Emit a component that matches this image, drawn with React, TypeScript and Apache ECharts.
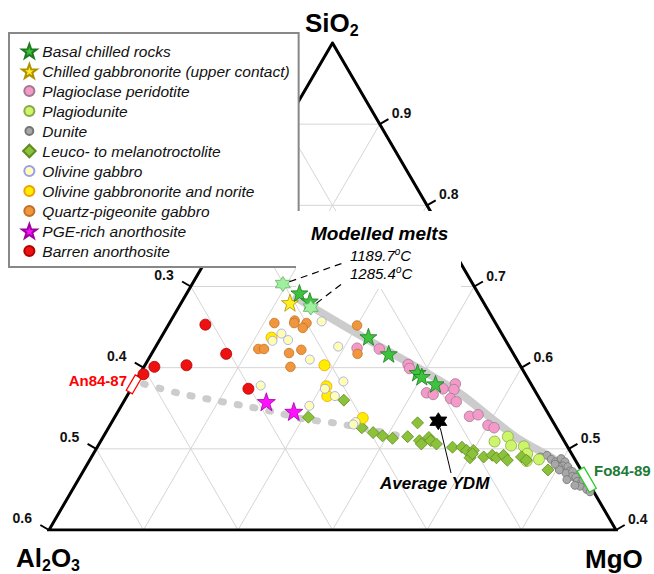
import React, { useEffect, useRef } from 'react';
import * as echarts from 'echarts';

// Compositions as [SiO2, MgO] fractions (Al2O3 = 1 - SiO2 - MgO)
const basalChilled = [[0.692,0.119],[0.682,0.135],[0.638,0.219],[0.617,0.251],[0.594,0.293],[0.589,0.300],[0.580,0.319]];
const chilledUpper = [[0.680,0.115]];
const plagPeridotite = [[0.624,0.214],[0.623,0.238],[0.604,0.278],[0.599,0.282],[0.569,0.315],[0.567,0.323],[0.574,0.330],[0.580,0.340],[0.573,0.342],[0.562,0.344],[0.558,0.352],[0.540,0.375],[0.542,0.383],[0.529,0.400],[0.526,0.408]];
const plagiodunite = [[0.515,0.428],[0.509,0.417],[0.504,0.437],[0.503,0.451],[0.494,0.459],[0.487,0.475],[0.485,0.463]];
const dunite = [[0.490,0.475],[0.492,0.481],[0.487,0.488],[0.484,0.494],[0.488,0.498],[0.484,0.504],[0.479,0.504],[0.478,0.510],[0.478,0.500],[0.473,0.515],[0.470,0.512],[0.472,0.518],[0.466,0.521],[0.465,0.525],[0.460,0.529],[0.457,0.534],[0.454,0.540],[0.454,0.535],[0.450,0.544],[0.474,0.503],[0.481,0.495],[0.462,0.517],[0.462,0.534],[0.455,0.529],[0.447,0.549]];
const troctolite = [[0.539,0.205],[0.560,0.232],[0.526,0.268],[0.520,0.283],[0.516,0.295],[0.513,0.307],[0.532,0.324],[0.515,0.322],[0.510,0.337],[0.506,0.341],[0.514,0.345],[0.510,0.349],[0.506,0.357],[0.502,0.376],[0.502,0.386],[0.498,0.393],[0.489,0.401],[0.498,0.400],[0.494,0.401],[0.490,0.415],[0.492,0.423],[0.489,0.429],[0.492,0.435],[0.486,0.442],[0.490,0.455],[0.486,0.462],[0.474,0.491]];
const olivineGabbro = [[0.657,0.160],[0.642,0.125],[0.634,0.136],[0.633,0.120],[0.626,0.193],[0.610,0.171],[0.578,0.135],[0.583,0.220],[0.574,0.205],[0.565,0.220],[0.553,0.199],[0.533,0.258],[0.530,0.257]];
const olGabbronorite = [[0.637,0.117],[0.603,0.190],[0.577,0.205],[0.565,0.212],[0.538,0.263]];
const qtzPigeonite = [[0.655,0.111],[0.658,0.131],[0.655,0.132],[0.655,0.145],[0.649,0.144],[0.623,0.110],[0.623,0.116],[0.618,0.145],[0.622,0.156],[0.601,0.155],[0.652,0.200],[0.617,0.218]];
const pgeAnorthosite = [[0.558,0.151],[0.546,0.186]];
const barrenAnorthosite = [[0.653,0.039],[0.617,0.079],[0.603,0.044],[0.601,0.011],[0.592,0.004],[0.574,0.124]];
const modelledMelts = [[0.703,0.096],[0.674,0.140]];
const meltLabels = ['1189.7', '1285.4'];
const averageYDM = [[0.534,0.345]];
const trendPeridotite = [[0.686,0.119],[0.669,0.152],[0.633,0.223],[0.598,0.294],[0.568,0.351],[0.536,0.402],[0.511,0.443],[0.486,0.493],[0.457,0.539]];
const trendTroctolite = [[0.580,0.010],[0.569,0.051],[0.561,0.089],[0.554,0.125],[0.546,0.163],[0.537,0.200],[0.532,0.235],[0.525,0.272],[0.516,0.313]];
const anRange = [0.570, 0.589]; // SiO2 on the MgO = 0 edge
const foRange = [0.449, 0.475]; // SiO2 on the Al2O3 = 0 edge
const rightTicks = [0.9, 0.8, 0.7, 0.6, 0.5, 0.4]; // SiO2
const leftTicks = [0.3, 0.4, 0.5, 0.6]; // Al2O3
const gridLevels = [0.1, 0.2, 0.3, 0.4, 0.5];
const gridSiO2 = [0.5, 0.6, 0.7, 0.8, 0.9];
const SIO2_MIN = 0.4;

const FONT = '"Liberation Sans", Arial, Helvetica, sans-serif';
const STAR = 'path://M50,0L61.8,33.8L97.6,34.5L69,56.2L79.4,90.5L50,70L20.6,90.5L31,56.2L2.4,34.5L38.2,33.8Z';
const HEX = 'path://M50,0L64.4,25L93.3,25L78.9,50L93.3,75L64.4,75L50,100L35.6,75L6.7,75L21.1,50L6.7,25L35.6,25Z';
const padCircle = (r: number) =>
  `path://M0,0M100,100M${50 + r},50A${r},${r},0,1,1,${50 - r},50A${r},${r},0,1,1,${50 + r},50Z`;
const padDiamond = 'path://M0,0M100,100M50,5L95,50L50,95L5,50Z';

const toXY = (p: number[]) => [p[1] + p[0] / 2, p[0]];

function seg(a: number[], b: number[]) {
  return {
    type: 'line', data: [toXY(a), toXY(b)], symbol: 'none', silent: true, z: 1,
    lineStyle: { color: '#d5d5d5', width: 1 },
  };
}

function scatter(name: string, data: number[][], symbol: string, size: number, color: string, border: string, z = 5) {
  return {
    name, type: 'scatter', data: data.map(toXY), symbol, symbolSize: size, z,
    itemStyle: { color, borderColor: border, borderWidth: 0.8, opacity: 1 },
  };
}

export default function App() {
  const ref = useRef<HTMLDivElement>(null);
  useEffect(() => {
    const chart = echarts.init(ref.current!, null, { renderer: 'svg' });
    const gridLines: any[] = [];
    gridSiO2.forEach((k) => gridLines.push(seg([k, 0], [k, 1 - k])));
    gridLevels.forEach((c) => gridLines.push(seg([1 - c, c], [SIO2_MIN, c])));
    gridLevels.forEach((c) => gridLines.push(seg([1 - c, 0], [SIO2_MIN, 1 - SIO2_MIN - c])));

    const legendItems = [
      { name: 'Basal chilled rocks', icon: STAR },
      { name: 'Chilled gabbronorite (upper contact)', icon: STAR },
      { name: 'Plagioclase peridotite', icon: padCircle(36) },
      { name: 'Plagiodunite', icon: padCircle(36) },
      { name: 'Dunite', icon: padCircle(28) },
      { name: 'Leuco- to melanotroctolite', icon: padDiamond },
      { name: 'Olivine gabbro', icon: padCircle(36) },
      { name: 'Olivine gabbronorite and norite', icon: padCircle(36) },
      { name: 'Quartz-pigeonite gabbro', icon: padCircle(36) },
      { name: 'PGE-rich anorthosite', icon: STAR },
      { name: 'Barren anorthosite', icon: padCircle(36) },
    ];

    const option: any = {
      animation: false,
      grid: { left: 49, right: 38, top: 43, bottom: 44, containLabel: false },
      xAxis: { type: 'value', min: 0.2, max: 0.8, show: false },
      yAxis: { type: 'value', min: 0.4, max: 1.0, show: false },
      legend: {
        left: 9, top: 33, orient: 'vertical', itemWidth: 16, itemHeight: 14, itemGap: 4,
        padding: [10, 9, 8, 12], backgroundColor: '#fff', borderColor: '#888', borderWidth: 2,
        selectedMode: false,
        textStyle: { fontStyle: 'italic', fontSize: 15.5, color: '#111', fontFamily: FONT },
        data: legendItems,
      },
      series: [
        ...gridLines,
        {
          type: 'line', symbol: 'none', silent: true, z: 3,
          data: [[SIO2_MIN, 0.3], [SIO2_MIN, 1 - SIO2_MIN], [1, 0], [SIO2_MIN, 0], [SIO2_MIN, 0.3]].map(toXY),
          lineStyle: { color: '#000', width: 3, join: 'miter' },
        },
        {
          type: 'line', symbol: 'none', silent: true, z: 2, smooth: 0.3,
          data: trendPeridotite.map(toXY),
          lineStyle: { color: '#cccccc', width: 8, cap: 'round' },
        },
        {
          type: 'line', symbol: 'none', silent: true, z: 2, smooth: 0.3,
          data: trendTroctolite.map(toXY),
          lineStyle: { color: '#cccccc', width: 7, cap: 'round', type: [2, 14] },
        },
        scatter('Dunite', dunite, 'circle', 8, '#a8a8a8', '#757575'),
        scatter('Plagiodunite', plagiodunite, 'circle', 11, '#ccf56a', '#8aa84a'),
        scatter('Leuco- to melanotroctolite', troctolite, 'diamond', 12, '#8cc23a', '#5f8a22'),
        scatter('Plagioclase peridotite', plagPeridotite, 'circle', 10.5, '#f49ac8', '#a07890'),
        scatter('Quartz-pigeonite gabbro', qtzPigeonite, 'circle', 9.5, '#f0963c', '#c0702a'),
        scatter('Olivine gabbronorite and norite', olGabbronorite, 'circle', 11, '#ffee00', '#f0a000'),
        scatter('Olivine gabbro', olivineGabbro, 'circle', 9, '#ffffb3', '#9c9cf0'),
        scatter('Barren anorthosite', barrenAnorthosite, 'circle', 11, '#ee1111', '#b00000'),
        scatter('PGE-rich anorthosite', pgeAnorthosite, STAR, 18, '#ff10ff', '#a000a0', 6),
        scatter('Chilled gabbronorite (upper contact)', chilledUpper, STAR, 17, '#ffee22', '#b09000', 6),
        scatter('Basal chilled rocks', basalChilled, STAR, 17, '#3cc43c', '#1f7a1f', 6),
        scatter('Modelled melts', modelledMelts, HEX, 15, '#9ef09e', '#5fae5f', 6),
        scatter('Average YDM', averageYDM, HEX, 17, '#000000', '#000000', 6),
      ],
    };
    chart.setOption(option);

    const P = (s: number, m: number) => chart.convertToPixel({ gridIndex: 0 }, toXY([s, m])) as number[];
    const tickFont = { fontSize: 14, fontWeight: 'bold', fontFamily: FONT, fill: '#111' };
    const els: any[] = [];
    // white box behind the modelled-melts annotation (hides grid and edge there)
    els.push({ type: 'rect', z: 4, shape: { x: 296, y: 211, width: 165, height: 78 }, style: { fill: '#fff' } });
    rightTicks.forEach((k) => {
      const [x, y] = P(k, 1 - k);
      els.push({ type: 'line', z: 10, shape: { x1: x, y1: y, x2: x + 8.7, y2: y - 5 }, style: { stroke: '#000', lineWidth: 2 } });
      els.push({ type: 'text', z: 10, x: x + 12, y: y - 11, style: { text: k.toFixed(1), ...tickFont, align: 'left', verticalAlign: 'middle' } });
    });
    leftTicks.forEach((a) => {
      const [x, y] = P(1 - a, 0);
      els.push({ type: 'line', z: 10, shape: { x1: x, y1: y, x2: x - 8.7, y2: y - 5 }, style: { stroke: '#000', lineWidth: 2 } });
      els.push({ type: 'text', z: 10, x: x - 17, y: y - 12, style: { text: a.toFixed(1), ...tickFont, align: 'right', verticalAlign: 'middle' } });
    });
    const rectOnEdge = (e1: number[], e2: number[], nx: number, ny: number, hw: number, color: string, z: number) => ({
      type: 'polygon', z,
      shape: { points: [
        [e1[0] + nx * hw, e1[1] + ny * hw], [e2[0] + nx * hw, e2[1] + ny * hw],
        [e2[0] - nx * hw, e2[1] - ny * hw], [e1[0] - nx * hw, e1[1] - ny * hw],
      ] },
      style: { fill: '#fff', stroke: color, lineWidth: 1.3 },
    });
    els.push(rectOnEdge(P(anRange[0], 0), P(anRange[1], 0), 0.866, 0.5, 3.5, '#ff0000', 4));
    els.push(rectOnEdge(P(foRange[0], 1 - foRange[0]), P(foRange[1], 1 - foRange[1]), 0.866, -0.5, 4, '#22cc22', 8));
    els.push({ type: 'text', z: 10, x: 127, y: 380, style: { text: 'An84-87', fontSize: 15, fontWeight: 'bold', fontFamily: FONT, fill: '#ff0000', align: 'right', verticalAlign: 'middle' } });
    els.push({ type: 'text', z: 10, x: 594, y: 470, style: { text: 'Fo84-89', fontSize: 15, fontWeight: 'bold', fontFamily: FONT, fill: '#1c7a36', align: 'left', verticalAlign: 'middle' } });

    // Modelled melts annotation
    els.push({ type: 'text', z: 10, x: 311, y: 233, style: { text: 'Modelled melts', fontSize: 19, fontWeight: 'bold', fontStyle: 'italic', fontFamily: FONT, fill: '#000', align: 'left', verticalAlign: 'middle' } });
    const labelAnchors = [[343, 263], [343, 283]];
    modelledMelts.forEach((mm, i) => {
      const [x, y] = P(mm[0], mm[1]);
      const [tx, ty] = labelAnchors[i];
      const len = Math.hypot(tx - x, ty - y);
      const dx = (tx - x) / len, dy = (ty - y) / len;
      els.push({ type: 'line', z: 10, shape: { x1: x + dx * 7, y1: y + dy * 7, x2: tx, y2: ty }, style: { stroke: '#000', lineWidth: 1.2, lineDash: [7, 5] } });
      els.push({
        type: 'text', z: 10, x: 350, y: 255 + i * 18.3,
        style: {
          text: `{n|${meltLabels[i]}}{o|o}{n|C}`, align: 'left', verticalAlign: 'middle',
          rich: {
            n: { fontSize: 15, fontStyle: 'italic', fontFamily: FONT, fill: '#000', lineHeight: 18 },
            o: { fontSize: 10, fontStyle: 'italic', fontFamily: FONT, fill: '#000', lineHeight: 10, verticalAlign: 'top' },
          },
        },
      });
    });
    // Average YDM annotation
    const [yx, yy] = P(averageYDM[0][0], averageYDM[0][1]);
    els.push({ type: 'line', z: 10, shape: { x1: yx + 2, y1: yy + 7, x2: 451, y2: 473 }, style: { stroke: '#000', lineWidth: 1 } });
    els.push({ type: 'text', z: 10, x: 380, y: 483, style: { text: 'Average YDM', fontSize: 17, fontWeight: 'bold', fontStyle: 'italic', fontFamily: FONT, fill: '#000', align: 'left', verticalAlign: 'middle' } });

    // Corner labels
    const chemRich = {
      m: { fontSize: 26, fontWeight: 'bold', fontFamily: FONT, fill: '#000', lineHeight: 30 },
      s: { fontSize: 16, fontWeight: 'bold', fontFamily: FONT, fill: '#000', lineHeight: 14, verticalAlign: 'bottom' },
    };
    const corner = (text: string, x: number, y: number) => ({
      type: 'text', z: 10, x, y, style: { text, rich: chemRich, align: 'left', verticalAlign: 'top' },
    });
    els.push(corner('{m|SiO}{s|2}', 305, 8));
    els.push(corner('{m|Al}{s|2}{m|O}{s|3}', 16, 543));
    els.push(corner('{m|MgO}', 585, 544));

    chart.setOption({ graphic: { elements: els } });
    return () => chart.dispose();
  }, []);
  return <div ref={ref} style={{ position: 'absolute', left: 0, top: 0, width: 654, height: 574 }} />;
}
